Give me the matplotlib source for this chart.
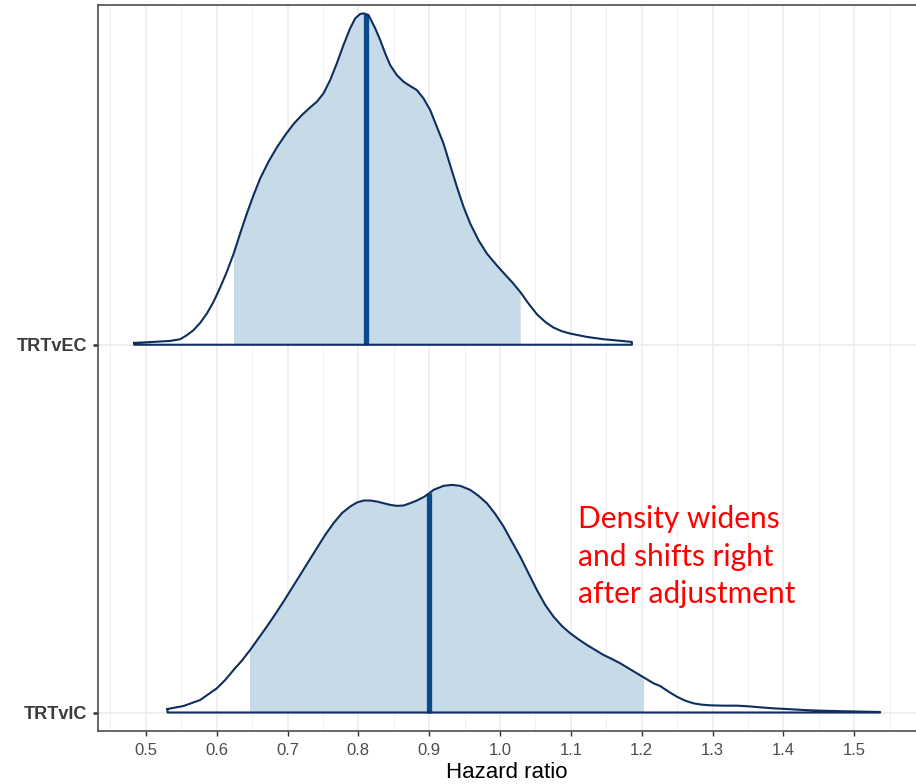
import numpy as np
import matplotlib.pyplot as plt
from matplotlib.ticker import MultipleLocator

# categories (y positions: TRTvIC = 1, TRTvEC = 2)
categories = ["TRTvIC", "TRTvEC"]

# density curves (hazard ratio, slab height)
ec_x = [0.4835, 0.5108, 0.5343, 0.5484, 0.5578, 0.5672, 0.5767, 0.5861, 0.5955, 0.6049,
        0.6143, 0.6237, 0.6331, 0.6426, 0.6520, 0.6614, 0.6731, 0.6849, 0.6967, 0.7084,
        0.7202, 0.7320, 0.7414, 0.7508, 0.7602, 0.7696, 0.7790, 0.7884, 0.7955, 0.8026,
        0.8073, 0.8143, 0.8238, 0.8308, 0.8379, 0.8449, 0.8543, 0.8638, 0.8732, 0.8826,
        0.8920, 0.9014, 0.9108, 0.9202, 0.9296, 0.9391, 0.9485, 0.9579, 0.9696, 0.9814,
        0.9932, 1.0049, 1.0167, 1.0285, 1.0402, 1.0520, 1.0638, 1.0755, 1.0873, 1.0991,
        1.1226, 1.1461, 1.1861]
ec_h = [0.0050, 0.0077, 0.0104, 0.0150, 0.0259, 0.0395, 0.0594, 0.0848, 0.1166, 0.1556,
        0.1982, 0.2463, 0.3025, 0.3569, 0.4068, 0.4522, 0.4975, 0.5365, 0.5701, 0.6000,
        0.6245, 0.6454, 0.6608, 0.6835, 0.7197, 0.7651, 0.8150, 0.8603, 0.8875, 0.8993,
        0.9011, 0.8966, 0.8603, 0.8286, 0.7923, 0.7605, 0.7333, 0.7152, 0.7034, 0.6925,
        0.6698, 0.6381, 0.5927, 0.5474, 0.4884, 0.4295, 0.3750, 0.3297, 0.2844, 0.2481,
        0.2209, 0.1955, 0.1710, 0.1438, 0.1120, 0.0830, 0.0621, 0.0467, 0.0367, 0.0304,
        0.0213, 0.0150, 0.0077]

ic_x = [0.5306, 0.5532, 0.5767, 0.6002, 0.6120, 0.6238, 0.6355, 0.6473, 0.6590, 0.6708,
        0.6826, 0.6943, 0.7061, 0.7179, 0.7296, 0.7414, 0.7532, 0.7649, 0.7767, 0.7885,
        0.7979, 0.8073, 0.8167, 0.8261, 0.8355, 0.8449, 0.8544, 0.8638, 0.8732, 0.8826,
        0.8920, 0.8991, 0.9061, 0.9202, 0.9320, 0.9438, 0.9579, 0.9697, 0.9814, 0.9932,
        1.0050, 1.0167, 1.0285, 1.0402, 1.0520, 1.0638, 1.0755, 1.0873, 1.0991, 1.1108,
        1.1226, 1.1344, 1.1461, 1.1579, 1.1697, 1.1814, 1.1932, 1.2050, 1.2167, 1.2261,
        1.2379, 1.2496, 1.2614, 1.2732, 1.2849, 1.2967, 1.3155, 1.3343, 1.3508, 1.3673,
        1.3861, 1.4049, 1.4285, 1.4520, 1.4896, 1.5367]
ic_h = [0.0095, 0.0177, 0.0340, 0.0658, 0.0884, 0.1156, 0.1410, 0.1701, 0.2018, 0.2336,
        0.2671, 0.3016, 0.3379, 0.3741, 0.4104, 0.4467, 0.4830, 0.5147, 0.5420, 0.5601,
        0.5710, 0.5764, 0.5764, 0.5737, 0.5692, 0.5646, 0.5619, 0.5628, 0.5692, 0.5764,
        0.5855, 0.5946, 0.6054, 0.6163, 0.6190, 0.6163, 0.6054, 0.5891, 0.5692, 0.5401,
        0.5057, 0.4648, 0.4240, 0.3787, 0.3333, 0.2925, 0.2608, 0.2354, 0.2154, 0.1991,
        0.1837, 0.1701, 0.1565, 0.1456, 0.1338, 0.1202, 0.1066, 0.0930, 0.0794, 0.0720,
        0.0567, 0.0431, 0.0322, 0.0249, 0.0213, 0.0195, 0.0186, 0.0186, 0.0168, 0.0141,
        0.0113, 0.0095, 0.0068, 0.0050, 0.0032, 0.0014]

# medians and 95% intervals
medians = [0.900, 0.811]
lower = [0.6463, 0.6237]
upper = [1.2027, 1.0285]

curves = [(ic_x, ic_h), (ec_x, ec_h)]

plt.rcParams['font.family'] = ['Liberation Sans', 'DejaVu Sans']

fig = plt.figure(figsize=(9.16, 7.84), dpi=100)
ax = fig.add_axes([97.7 / 916, 53 / 784, 1 - 97.7 / 916, 726 / 784])

outline = '#0e2e5e'
fill_c = '#c6dae8'
med_c = '#0b4a8a'

for i, (xs, hs) in enumerate(curves):
    base = i + 1
    xs = np.array(xs)
    hs = np.array(hs)
    # shaded interval
    inside = (xs > lower[i]) & (xs < upper[i])
    fx = np.concatenate([[lower[i]], xs[inside], [upper[i]]])
    fh = np.concatenate([[np.interp(lower[i], xs, hs)], hs[inside],
                         [np.interp(upper[i], xs, hs)]])
    ax.fill_between(fx, base, base + fh, color=fill_c, lw=0, zorder=2)
    # median
    mh = np.interp(medians[i], xs, hs)
    ax.plot([medians[i], medians[i]], [base, base + mh], color=med_c,
            lw=3.8, solid_capstyle='butt', zorder=3)
    # outline of slab
    ox = np.concatenate([xs, [xs[-1], xs[0], xs[0]]])
    oh = np.concatenate([hs, [0, 0, hs[0]]])
    ax.plot(ox, base + oh, color=outline, lw=1.5, zorder=4,
            solid_joinstyle='round')

ax.set_xlim(0.432, 0.432 + (916 - 97.7) / 708.3)
ax.set_ylim(0.9497, 2.9238)

ax.xaxis.set_major_locator(MultipleLocator(0.1))
ax.xaxis.set_minor_locator(MultipleLocator(0.05))
ax.set_yticks([1, 2])
ax.set_yticklabels(categories, fontsize=13, fontweight='bold', color='#3a3a3a')
ax.tick_params(axis='x', which='major', labelsize=12, labelcolor='#4d4d4d',
               length=3.5, width=1, color='#333333', pad=5)
ax.tick_params(axis='x', which='minor', length=0)
ax.tick_params(axis='y', length=3.5, width=1.8, color='#333333', pad=4)
ax.set_xticklabels([f"{v:.1f}" for v in ax.get_xticks()])

ax.grid(True, which='major', color='#ebebeb', lw=1.1, zorder=0)
ax.grid(True, which='minor', axis='x', color='#f0f0f0', lw=0.7, zorder=0)
ax.set_axisbelow(True)

for side in ['top', 'left', 'bottom']:
    ax.spines[side].set_color('#4d4d4d')
    ax.spines[side].set_linewidth(1.2)
ax.spines['right'].set_visible(False)

ax.set_xlabel("Hazard ratio", fontsize=16, color='black', labelpad=3)

ax.text(1.110, 1 + (712.5 - 505) / 367.5,
        "Density widens\nand shifts right\nafter adjustment",
        color='red', fontsize=21.5, family='Lato', va='top', ha='left',
        linespacing=1.42, zorder=5)

fig.savefig('out.png', dpi=100)
